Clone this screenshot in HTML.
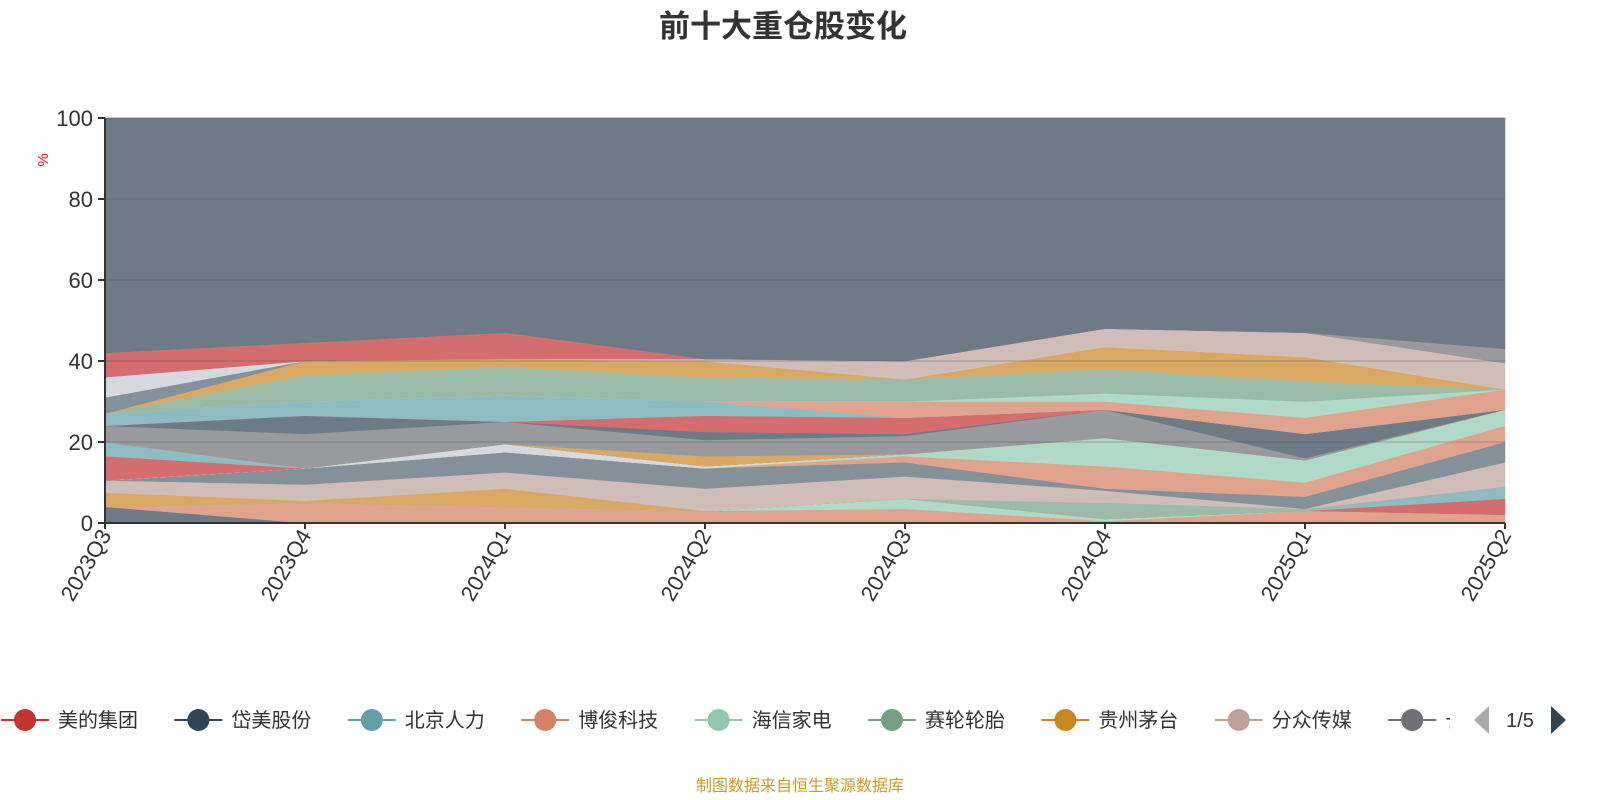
<!DOCTYPE html>
<html><head><meta charset="utf-8">
<style>
body{margin:0;background:#fff;font-family:"Liberation Sans","Noto Sans CJK SC",sans-serif;}
#wrap{position:relative;width:1600px;height:800px;overflow:hidden;}
</style></head>
<body>
<div id="wrap">
<svg id="chart" width="1600" height="800">
<text x="783" y="37" text-anchor="middle" font-size="31" font-weight="bold" fill="#333" font-family="Liberation Sans,Noto Sans CJK SC,sans-serif">前十大重仓股变化</text>
<text transform="translate(48,160) rotate(-90)" text-anchor="middle" font-size="15" fill="#e00">%</text>
<text x="800" y="791" text-anchor="middle" font-size="16" fill="#d09a2a" font-family="Liberation Sans,Noto Sans CJK SC,sans-serif">制图数据来自恒生聚源数据库</text>
<g id="areas"></g><g id="axes"></g><g id="legend"></g>
</svg>
</div>
<script>
const categories=["2023Q3","2023Q4","2024Q1","2024Q2","2024Q3","2024Q4","2025Q1","2025Q2"];
const yTicks=[0,20,40,60,80,100];
const s01=[4,0,0,0,0,0,0,0];
const s02=[0,5,4,3,3.5,0.5,3,2];
const s03=[0,0,0,0,2.5,0.5,0,0];
const s04=[0,0,0,0,0,0,0,4];
const s05=[0,0,0,0,0,0,0,3];
const s06=[3.5,0.5,4.5,0,0,0,0,0];
const s07=[0,0,0,0,0,4,0.5,0];
const s08=[3,4,4,5.5,5.5,3,0,6];
const s09=[0,4,5,5,3.5,0.5,3,5];
const s10=[0,0,0,0,1.5,5.5,3.5,4];
const s11=[0,0,0,0,0.5,7,5.5,4];
const s12=[0,0,2,0.5,0,0,0,0];
const s13=[6,0,0,0,0,0,0,0];
const s14=[3.5,0,0,0,0,0,0,0];
const s15=[0,0,0,2.5,0,0,0,0];
const s16=[4,8.5,5.5,4,4.5,7,0.5,0];
const s17=[0,4.5,0,2,0.5,0,6,0];
const s18=[0,0,0,4,4,0,0,0];
const s19=[3,3.5,6.5,3.5,0,0,0,0];
const s20=[0,0,0,0,4,2,4,5];
const s21=[0,0,0,0,0,2,4,0];
const s22=[0,6.5,7,6,5.5,6,5,0];
const s23=[0,3.5,2,4,0,5.5,6,0];
const s24=[4,0,0,0,0,0,0,0];
const s25=[5,0,0,0,0,0,0,0];
const s26=[0,0,0,0.5,4.5,4.5,6,6.5];
const s27=[6,4.5,6.5,0,0,0,0,0];
const s28=[0,0,0,0,0,0,0,3.5];
const seriesList=[s01,s02,s03,s04,s05,s06,s07,s08,s09,s10,s11,s12,s13,s14,s15,s16,s17,s18,s19,s20,s21,s22,s23,s24,s25,s26,s27,s28];
const fills=["#6e7b87","#e0a48e","#b0d9c7","#d46e6e","#8fbcc3","#d9a964","#9bbba8","#d1bdb8","#84919a","#e0a48e","#b0d9c7","#d6dae0","#d46e6e","#8fbcc3","#d9a964","#989a9e","#6e7b87","#d46e6e","#8fbcc3","#e0a48e","#b0d9c7","#9bbba8","#d9a964","#84919a","#d6dae0","#d1bdb8","#d46e6e","#989a9e"];
const legendNames=["美的集团","岱美股份","北京人力","博俊科技","海信家电","赛轮轮胎","贵州茅台","分众传媒","长"];
const legendColors=["#c23531","#2f4554","#61a0a8","#d48265","#91c7ae","#749f83","#ca8622","#bda29a","#6e7074"];
const X0=105,X1=1505,Y0=523,Y1=118;
const xs=i=>X0+i*(X1-X0)/(categories.length-1);
const ys=v=>Y0-v*(Y0-Y1)/100;
const NS="http://www.w3.org/2000/svg";
const mk=(t,a,p)=>{const e=document.createElementNS(NS,t);for(const k in a)e.setAttribute(k,a[k]);p.appendChild(e);return e;};
const areas=document.getElementById('areas');
let base=categories.map(()=>0);
seriesList.concat([null]).forEach((s,si)=>{
  const vals=s?s:base.map(b=>100-b);
  const top=base.map((b,i)=>b+vals[i]);
  let d="M"+categories.map((c,i)=>xs(i)+","+ys(top[i])).join(" L");
  for(let i=categories.length-1;i>=0;i--)d+=" L"+xs(i)+","+ys(base[i]);
  const p=mk('path',{d:d+"Z",fill:s?fills[si]:"#6e7b87",stroke:s?fills[si]:"#6e7b87","stroke-width":0.5},areas);
  
  
  base=top;
});
const ax=document.getElementById('axes');
yTicks.forEach(t=>{
  const l=mk('line',{x1:X0,x2:X1,y1:ys(t),y2:ys(t),stroke:"rgba(60,70,80,0.35)","stroke-width":1},ax);
  
  
  mk('line',{x1:X0-7,x2:X0,y1:ys(t),y2:ys(t),stroke:"#333","stroke-width":2},ax);
  const tx=mk('text',{x:X0-12,y:ys(t)+8,"text-anchor":"end","font-size":22,fill:"#333"},ax);
  tx.textContent=t;
  
  
});
mk('line',{x1:X0,x2:X0,y1:Y1,y2:Y0,stroke:"#333","stroke-width":2},ax);
mk('line',{x1:X0,x2:X1,y1:Y0,y2:Y0,stroke:"#333","stroke-width":2},ax);
categories.forEach((c,i)=>{
  mk('line',{x1:xs(i),x2:xs(i),y1:Y0,y2:Y0+6,stroke:"#333","stroke-width":2},ax);
  const tx=mk('text',{transform:`translate(${xs(i)+7},${Y0+12}) rotate(-60)`,"text-anchor":"end","font-size":22,fill:"#333"},ax);
  tx.textContent=c;
  
  
});
const lg=document.getElementById('legend');
legendNames.forEach((n,i)=>{
  const cx=25+i*173.4;
  const g=mk('g',{},lg);
  
  
  mk('line',{x1:cx-24,x2:cx+24,y1:720,y2:720,stroke:legendColors[i],"stroke-width":2},g);
  mk('circle',{cx:cx,cy:720,r:11,fill:legendColors[i]},g);
  const t=mk('text',{x:cx+33,y:727,"font-size":20,fill:"#333","font-family":"Liberation Sans,Noto Sans CJK SC,sans-serif"},g);
  t.textContent=n;
});
mk('rect',{x:1450,y:700,width:150,height:40,fill:"#fff"},lg);
const pl=mk('path',{d:"M1474,720 L1489,706 L1489,734Z",fill:"#aaa"},lg);


const pt=mk('text',{x:1520,y:727,"text-anchor":"middle","font-size":20,fill:"#333"},lg);
pt.textContent="1/5";


const pr=mk('path',{d:"M1566,720 L1551,706 L1551,734Z",fill:"#2f4554"},lg);


</script>
</body></html>
